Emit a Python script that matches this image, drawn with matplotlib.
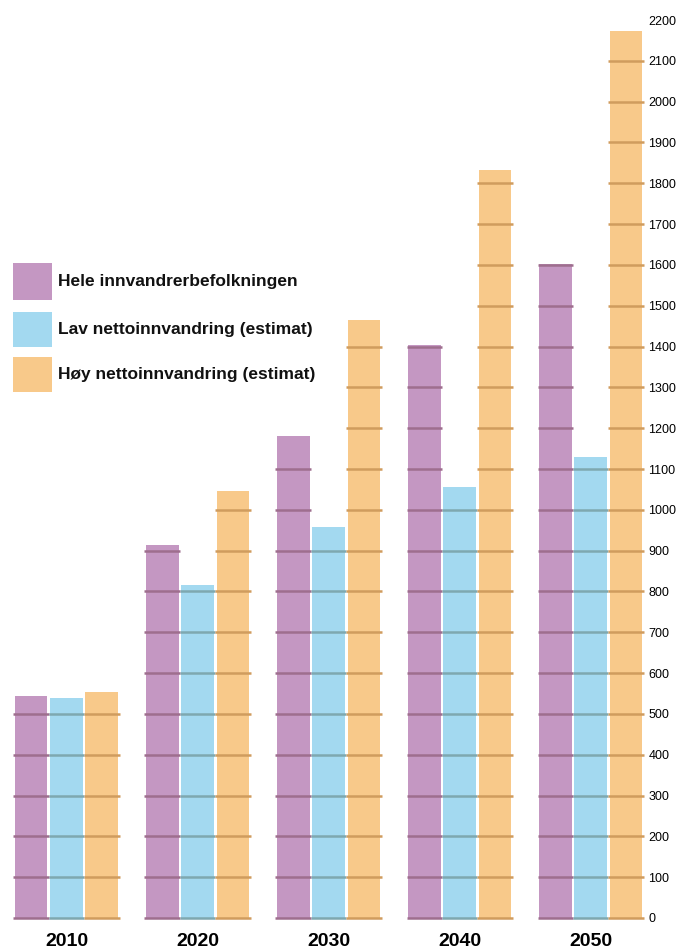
import matplotlib
matplotlib.use("Agg")
import matplotlib.pyplot as plt
from matplotlib.patches import Rectangle
import numpy as np

years = ["2010", "2020", "2030", "2040", "2050"]
series_names = ["Hele innvandrerbefolkningen",
                "Lav nettoinnvandring (estimat)",
                "Høy nettoinnvandring (estimat)"]
hele = [545, 914, 1181, 1404, 1603]
lav = [540, 816, 957, 1055, 1129]
hoy = [553, 1047, 1464, 1833, 2174]
yticks = list(range(0, 2201, 100))

bar_colors = ["#C497C2", "#A3D9F0", "#F8C98A"]
line_colors = ["#9E6E8E", "#7EA8B0", "#D09C5E"]

FONT = ["Liberation Sans Narrow", "Liberation Sans", "DejaVu Sans"]
plt.rcParams["font.family"] = FONT

W, H = 679, 950
fig = plt.figure(figsize=(W / 100, H / 100), dpi=100)
ax = fig.add_axes([15 / W, 32 / H, 628 / W, 898 / H])

x = np.arange(len(years))
width = 0.25
offs = [-0.27, 0.0, 0.27]
for vals, off, c, lc in zip([hele, lav, hoy], offs, bar_colors, line_colors):
    ax.bar(x + off, vals, width=width, color=c, edgecolor="none", zorder=2)
    for xi, v in zip(x, vals):
        levels = [t for t in yticks if t <= v]
        ax.hlines(levels, xi + off - width / 2 - 0.01, xi + off + width / 2 + 0.01,
                  colors=lc, linewidth=1.8, zorder=3, clip_on=False)

ax.set_xlim(-0.393, 4.4)
ax.set_ylim(0, 2200)
ax.set_yticks(yticks)
ax.set_yticklabels([str(t) for t in yticks], fontsize=9)
ax.yaxis.tick_right()
ax.tick_params(axis="y", length=0, pad=4)
ax.set_xticks(x)
ax.set_xticklabels(years, fontsize=14, fontweight="bold")
ax.tick_params(axis="x", length=0, pad=11)
for s in ax.spines.values():
    s.set_visible(False)

# legend drawn manually: swatch boxes and labels
sw_top = [263, 312, 357]
sw_bot = [300, 347, 392]
for name, c, t, b in zip(series_names, bar_colors, sw_top, sw_bot):
    fig.add_artist(Rectangle((13 / W, 1 - b / H), 39 / W, (b - t) / H,
                             transform=fig.transFigure, facecolor=c,
                             edgecolor="none"))
    fig.text(58 / W, 1 - (t + b) / 2 / H, name, fontsize=12.5, fontweight="bold",
             va="center", ha="left", color="#111111")

fig.savefig("out.png", dpi=100)
